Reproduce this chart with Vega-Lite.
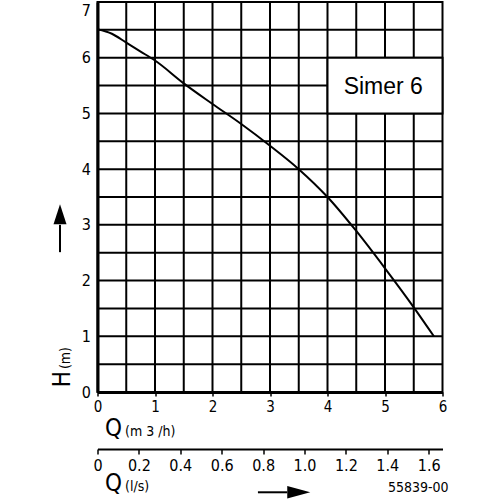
{
  "$schema": "https://vega.github.io/schema/vega-lite/v6.json",
  "width": 345,
  "height": 390,
  "autosize": "none",
  "padding": {"left": 97.5, "top": 2, "right": 57.5, "bottom": 108},
  "background": "white",
  "config": {
    "view": {"stroke": "black", "strokeWidth": 2},
    "font": "DejaVu Sans Condensed",
    "axis": {"grid": false}
  },
  "datasets": {
    "curve": [
      {"q": 0, "h": 6.51},
      {"q": 0.25, "h": 6.43},
      {"q": 0.5, "h": 6.27},
      {"q": 0.75, "h": 6.11},
      {"q": 1, "h": 5.95},
      {"q": 1.5, "h": 5.54},
      {"q": 2, "h": 5.17},
      {"q": 2.5, "h": 4.81},
      {"q": 3, "h": 4.42},
      {"q": 3.5, "h": 4.0},
      {"q": 4, "h": 3.5},
      {"q": 4.5, "h": 2.89},
      {"q": 5, "h": 2.22},
      {"q": 5.5, "h": 1.52},
      {"q": 5.85, "h": 1.0}
    ],
    "gridX": [{"v": 0.5}, {"v": 1}, {"v": 1.5}, {"v": 2}, {"v": 2.5}, {"v": 3}, {"v": 3.5}, {"v": 4}, {"v": 4.5}, {"v": 5}, {"v": 5.5}],
    "gridY": [{"v": 0.5}, {"v": 1}, {"v": 1.5}, {"v": 2}, {"v": 2.5}, {"v": 3}, {"v": 3.5}, {"v": 4}, {"v": 4.5}, {"v": 5}, {"v": 5.5}, {"v": 6}, {"v": 6.5}],
    "box": [{"x": 4, "x2": 6, "y": 5, "y2": 6, "label": "Simer 6", "cx": 4.97, "cy": 5.48}],
    "bigText": [
      {"x": 0.13, "y": -0.79, "t": "Q"},
      {"x": 0.13, "y": -1.77, "t": "Q"}
    ],
    "smallText": [
      {"x": 0.478, "y": -0.79, "t": "(m 3 /h)"},
      {"x": 0.478, "y": -1.77, "t": "(l/s)"},
      {"x": 5.05, "y": -1.8, "t": "55839-00"}
    ],
    "vText": [
      {"x": -0.478, "y": 0.232, "t": "H", "s": "big"},
      {"x": -0.478, "y": 0.61, "t": "(m)", "s": "small"}
    ],
    "shafts": [
      {"x": -0.652, "x2": -0.652, "y": 2.51, "y2": 3.0},
      {"x": 2.79, "x2": 3.3, "y": -1.8, "y2": -1.8}
    ],
    "headUp": [{"x": -0.652, "y": 3.19}],
    "headRight": [{"x": 3.5, "y": -1.8}],
    "ls": [{"ls": 0}, {"ls": 1.6667}]
  },
  "layer": [
    {
      "layer": [
        {
          "data": {"name": "gridX"},
          "mark": {"type": "rule", "color": "black", "strokeWidth": 2},
          "encoding": {
            "x": {"field": "v", "type": "quantitative"}
          }
        },
        {
          "data": {"name": "gridY"},
          "mark": {"type": "rule", "color": "black", "strokeWidth": 2},
          "encoding": {
            "y": {"field": "v", "type": "quantitative"}
          }
        },
        {
          "data": {"name": "curve"},
          "mark": {"type": "line", "color": "black", "strokeWidth": 2, "interpolate": "monotone"},
          "encoding": {
            "x": {
              "field": "q", "type": "quantitative",
              "scale": {"domain": [0, 6], "nice": false, "zero": false},
              "axis": {
                "values": [0, 1, 2, 3, 4, 5, 6],
                "labelExpr": "format(datum.value, 'd')",
                "labelFlush": false,
                "grid": false,
                "domain": true, "domainColor": "black", "domainWidth": 3,
                "ticks": true, "tickSize": 4, "tickColor": "black", "tickWidth": 1.5,
                "labelFontSize": 15, "labelColor": "black", "labelPadding": 3,
                "labelFont": "DejaVu Sans Condensed",
                "title": null
              }
            },
            "y": {
              "field": "h", "type": "quantitative",
              "scale": {"domain": [0, 7], "nice": false, "zero": false},
              "axis": {
                "values": [0, 1, 2, 3, 4, 5, 6, 7],
                "labelExpr": "format(datum.value, 'd')",
                "labelFlush": false,
                "grid": false,
                "domain": true, "domainColor": "black", "domainWidth": 3,
                "ticks": false,
                "labelFontSize": 16, "labelColor": "black", "labelPadding": 7,
                "labelBaseline": {"condition": {"test": "datum.value === 7", "value": "top"}, "value": "middle"},
                "labelFont": "DejaVu Sans Condensed",
                "title": null
              }
            }
          }
        },
        {
          "data": {"name": "box"},
          "mark": {"type": "rect", "fill": "white", "stroke": "black", "strokeWidth": 2},
          "encoding": {
            "x": {"field": "x", "type": "quantitative"},
            "x2": {"field": "x2"},
            "y": {"field": "y", "type": "quantitative"},
            "y2": {"field": "y2"}
          }
        },
        {
          "data": {"name": "box"},
          "mark": {"type": "text", "font": "Liberation Sans", "fontSize": 23, "color": "black", "align": "center", "baseline": "middle"},
          "encoding": {
            "x": {"field": "cx", "type": "quantitative"},
            "y": {"field": "cy", "type": "quantitative"},
            "text": {"field": "label"}
          }
        },
        {
          "data": {"name": "bigText"},
          "mark": {"type": "text", "fontSize": 24, "color": "black", "align": "left", "baseline": "alphabetic"},
          "encoding": {
            "x": {"field": "x", "type": "quantitative"},
            "y": {"field": "y", "type": "quantitative"},
            "text": {"field": "t"}
          }
        },
        {
          "data": {"name": "smallText"},
          "mark": {"type": "text", "fontSize": 14, "color": "black", "align": "left", "baseline": "alphabetic"},
          "encoding": {
            "x": {"field": "x", "type": "quantitative"},
            "y": {"field": "y", "type": "quantitative"},
            "text": {"field": "t"}
          }
        },
        {
          "data": {"name": "vText"},
          "transform": [{"filter": "datum.s === 'big'"}],
          "mark": {"type": "text", "fontSize": 24, "color": "black", "align": "center", "baseline": "alphabetic", "angle": 270},
          "encoding": {
            "x": {"field": "x", "type": "quantitative"},
            "y": {"field": "y", "type": "quantitative"},
            "text": {"field": "t"}
          }
        },
        {
          "data": {"name": "vText"},
          "transform": [{"filter": "datum.s === 'small'"}],
          "mark": {"type": "text", "fontSize": 14, "color": "black", "align": "center", "baseline": "alphabetic", "angle": 270},
          "encoding": {
            "x": {"field": "x", "type": "quantitative"},
            "y": {"field": "y", "type": "quantitative"},
            "text": {"field": "t"}
          }
        },
        {
          "data": {"name": "shafts"},
          "mark": {"type": "rule", "color": "black", "strokeWidth": 2},
          "encoding": {
            "x": {"field": "x", "type": "quantitative"},
            "x2": {"field": "x2"},
            "y": {"field": "y", "type": "quantitative"},
            "y2": {"field": "y2"}
          }
        },
        {
          "data": {"name": "headUp"},
          "mark": {"type": "point", "filled": true, "color": "black", "opacity": 1, "size": 400, "shape": "M-0.65,1L0.65,1L0,-1Z"},
          "encoding": {
            "x": {"field": "x", "type": "quantitative"},
            "y": {"field": "y", "type": "quantitative"}
          }
        },
        {
          "data": {"name": "headRight"},
          "mark": {"type": "point", "filled": true, "color": "black", "opacity": 1, "size": 529, "shape": "M-1,-0.55L1,0L-1,0.55Z"},
          "encoding": {
            "x": {"field": "x", "type": "quantitative"},
            "y": {"field": "y", "type": "quantitative"}
          }
        }
      ]
    },
    {
      "data": {"name": "ls"},
      "mark": {"type": "point", "opacity": 0},
      "encoding": {
        "x": {
          "field": "ls", "type": "quantitative",
          "scale": {"domain": [0, 1.6667], "nice": false, "zero": false},
          "axis": {
            "orient": "bottom", "offset": 57,
            "values": [0, 0.2, 0.4, 0.6, 0.8, 1.0, 1.2, 1.4, 1.6],
            "labelExpr": "datum.value === 0 ? '0' : format(datum.value, '.1f')",
            "labelFlush": false,
            "grid": false,
            "domain": true, "domainColor": "black", "domainWidth": 2,
            "ticks": true, "tickSize": 5, "tickColor": "black", "tickWidth": 1.5,
            "labelFontSize": 16, "labelColor": "black", "labelPadding": 3,
            "labelFont": "DejaVu Sans Condensed",
            "title": null
          }
        }
      }
    }
  ],
  "resolve": {"scale": {"x": "independent"}, "axis": {"x": "independent"}}
}
